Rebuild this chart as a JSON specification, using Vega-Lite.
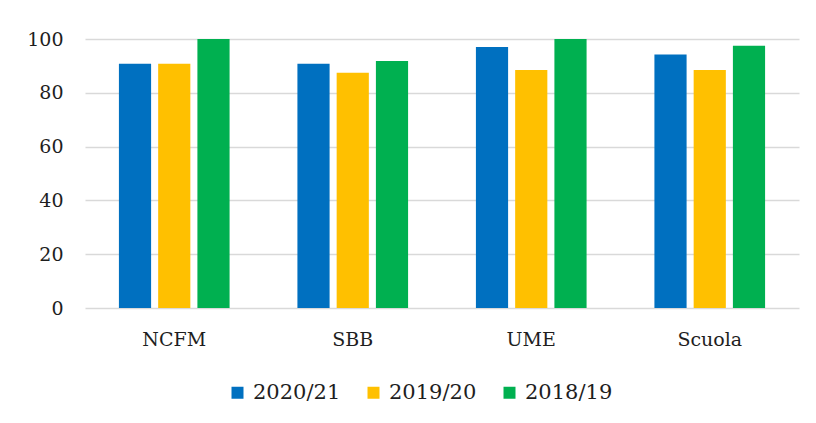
{
  "$schema": "https://vega.github.io/schema/vega-lite/v6.json",
  "autosize": "none",
  "width": 714,
  "height": 269,
  "padding": {"left": 85, "top": 39, "right": 17, "bottom": 115},
  "background": "white",
  "data": {
    "values": [
      {"ente": "NCFM", "anno": "2020/21", "valore": 90.8},
      {"ente": "NCFM", "anno": "2019/20", "valore": 90.8},
      {"ente": "NCFM", "anno": "2018/19", "valore": 100},
      {"ente": "SBB", "anno": "2020/21", "valore": 90.8},
      {"ente": "SBB", "anno": "2019/20", "valore": 87.5},
      {"ente": "SBB", "anno": "2018/19", "valore": 91.8},
      {"ente": "UME", "anno": "2020/21", "valore": 97},
      {"ente": "UME", "anno": "2019/20", "valore": 88.5},
      {"ente": "UME", "anno": "2018/19", "valore": 100},
      {"ente": "Scuola", "anno": "2020/21", "valore": 94.2},
      {"ente": "Scuola", "anno": "2019/20", "valore": 88.5},
      {"ente": "Scuola", "anno": "2018/19", "valore": 97.5}
    ]
  },
  "mark": {"type": "bar"},
  "encoding": {
    "x": {
      "field": "ente",
      "type": "nominal",
      "sort": ["NCFM", "SBB", "UME", "Scuola"],
      "scale": {"paddingInner": 0.38, "paddingOuter": 0.19},
      "axis": {
        "title": null,
        "labelAngle": 0,
        "domain": false,
        "ticks": false,
        "labelFont": "DejaVu Serif",
        "labelFontSize": 19,
        "labelColor": "#1e1e1e",
        "labelPadding": 22
      }
    },
    "xOffset": {
      "field": "anno",
      "type": "nominal",
      "sort": ["2020/21", "2019/20", "2018/19"],
      "scale": {"paddingInner": 0.18, "paddingOuter": 0}
    },
    "y": {
      "field": "valore",
      "type": "quantitative",
      "scale": {"domain": [0, 100], "nice": false},
      "axis": {
        "title": null,
        "values": [0, 20, 40, 60, 80, 100],
        "domain": false,
        "ticks": false,
        "grid": true,
        "gridColor": "#d9d9d9",
        "gridWidth": 1.3,
        "labelFont": "DejaVu Serif",
        "labelFontSize": 19,
        "labelColor": "#1e1e1e",
        "labelPadding": 22
      }
    },
    "color": {
      "field": "anno",
      "type": "nominal",
      "sort": ["2020/21", "2019/20", "2018/19"],
      "scale": {
        "domain": ["2020/21", "2019/20", "2018/19"],
        "range": ["#0070C0", "#FFC000", "#00B050"]
      },
      "legend": {
        "title": null,
        "orient": "none",
        "direction": "horizontal",
        "legendX": 142,
        "legendY": 343,
        "symbolType": "square",
        "symbolSize": 144,
        "symbolStrokeWidth": 0,
        "symbolOpacity": 1,
        "labelFont": "DejaVu Serif",
        "labelFontSize": 21,
        "labelColor": "#1e1e1e",
        "labelOffset": 5,
        "columnPadding": 22,
        "padding": 0
      }
    }
  },
  "config": {
    "view": {"stroke": null}
  }
}
